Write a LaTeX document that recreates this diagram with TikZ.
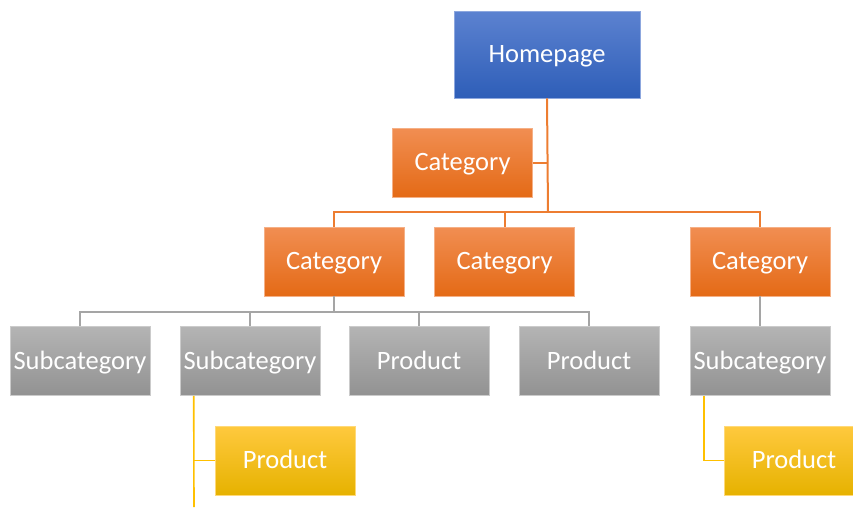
\documentclass[tikz,border=0pt]{standalone}
\usepackage{fontspec}
\setmainfont{Carlito}
\usepackage{tikz}
\usetikzlibrary{calc}
\usetikzlibrary{positioning}
\definecolor{homeblue}{RGB}{92, 130, 208}
\definecolor{homeblueb}{RGB}{46, 94, 184}
\definecolor{catorange}{RGB}{241, 142, 82}
\definecolor{catorangeb}{RGB}{228, 106, 22}
\definecolor{subgray}{RGB}{180, 180, 180}
\definecolor{subgrayb}{RGB}{146, 146, 146}
\definecolor{prodyellow}{RGB}{255, 201, 62}
\definecolor{prodyellowb}{RGB}{230, 178, 0}
\definecolor{lineorange}{RGB}{237, 125, 49}
\definecolor{linegray}{RGB}{165, 165, 165}
\definecolor{lineyellow}{RGB}{255, 192, 0}

\begin{document}
\begin{tikzpicture}[x=1pt, y=-1pt,
    box/.style={minimum width=140pt, minimum height=69pt, inner sep=0pt,
                text=white, line width=0.6pt, text height=20pt, text depth=4pt,
                font=\fontsize{26.5}{30}\selectfont},
    homebox/.style={box, minimum width=186pt, minimum height=87pt,
                top color=homeblue, bottom color=homeblueb, draw=homeblue!70!white},
    catbox/.style={box, top color=catorange, bottom color=catorangeb, draw=catorange!70!white},
    subbox/.style={box, top color=subgray, bottom color=subgrayb, draw=subgray!70!white},
    prodbox/.style={box, top color=prodyellow, bottom color=prodyellowb, draw=prodyellow!70!white},
    catline/.style={lineorange, line width=2pt},
    subline/.style={linegray, line width=1.6pt},
    prodline/.style={lineyellow, line width=1.6pt}]
    \useasboundingbox (0,0) rectangle (853,507);
    % boxes
    \node[homebox] (home)  at (547, 54.5)  {Homepage};
    \node[catbox]  (cat0)  at (462.5,162.5) {Category};
    \node[catbox]  (cat1)  at (334, 261.5)  {Category};
    \node[catbox]  (cat2)  at (504.5,261.5) {Category};
    \node[catbox]  (cat3)  at (760, 261.5)  {Category};
    \node[subbox]  (sub1)  at (80, 361)     {Subcategory};
    \node[subbox]  (sub2)  at (250, 361)    {Subcategory};
    \node[subbox]  (prod1) at (419, 361)    {Product};
    \node[subbox]  (prod2) at (589, 361)    {Product};
    \node[subbox]  (sub3)  at (760, 361)    {Subcategory};
    \node[prodbox] (item1) at (285, 460.5)  {Product};
    \node[prodbox] (item2) at (794, 460.5)  {Product};
    % junction points
    \coordinate (cathub)  at (548, 212);
    \coordinate (subhub)  at (335, 312);
    \coordinate (stemA)   at ([xshift=14pt]sub2.south west);
    \coordinate (tailA)   at (194, 507);
    \coordinate (stemB)   at ([xshift=14pt]sub3.south west);
    % connectors
    \draw[catline] (home.south) -- (cathub);
    \draw[catline] (cat0.east) -- (cat0.east -| cathub);
    \draw[catline] (cat1.north) |- (cathub) -| (cat3.north);
    \draw[catline] (cat2.north) -- (cat2.north |- cathub);
    \draw[subline] (cat1.south) -- (cat1.south |- subhub);
    \draw[subline] (sub1.north) |- (subhub) -| (prod2.north);
    \draw[subline] (sub2.north) -- (sub2.north |- subhub);
    \draw[subline] (prod1.north) -- (prod1.north |- subhub);
    \draw[subline] (cat3.south) -- (sub3.north);
    \draw[prodline] (stemA) -- (tailA);
    \draw[prodline] (item1.west) -- (item1.west -| stemA);
    \draw[prodline] (stemB) |- (item2.west);
\end{tikzpicture}
\end{document}
